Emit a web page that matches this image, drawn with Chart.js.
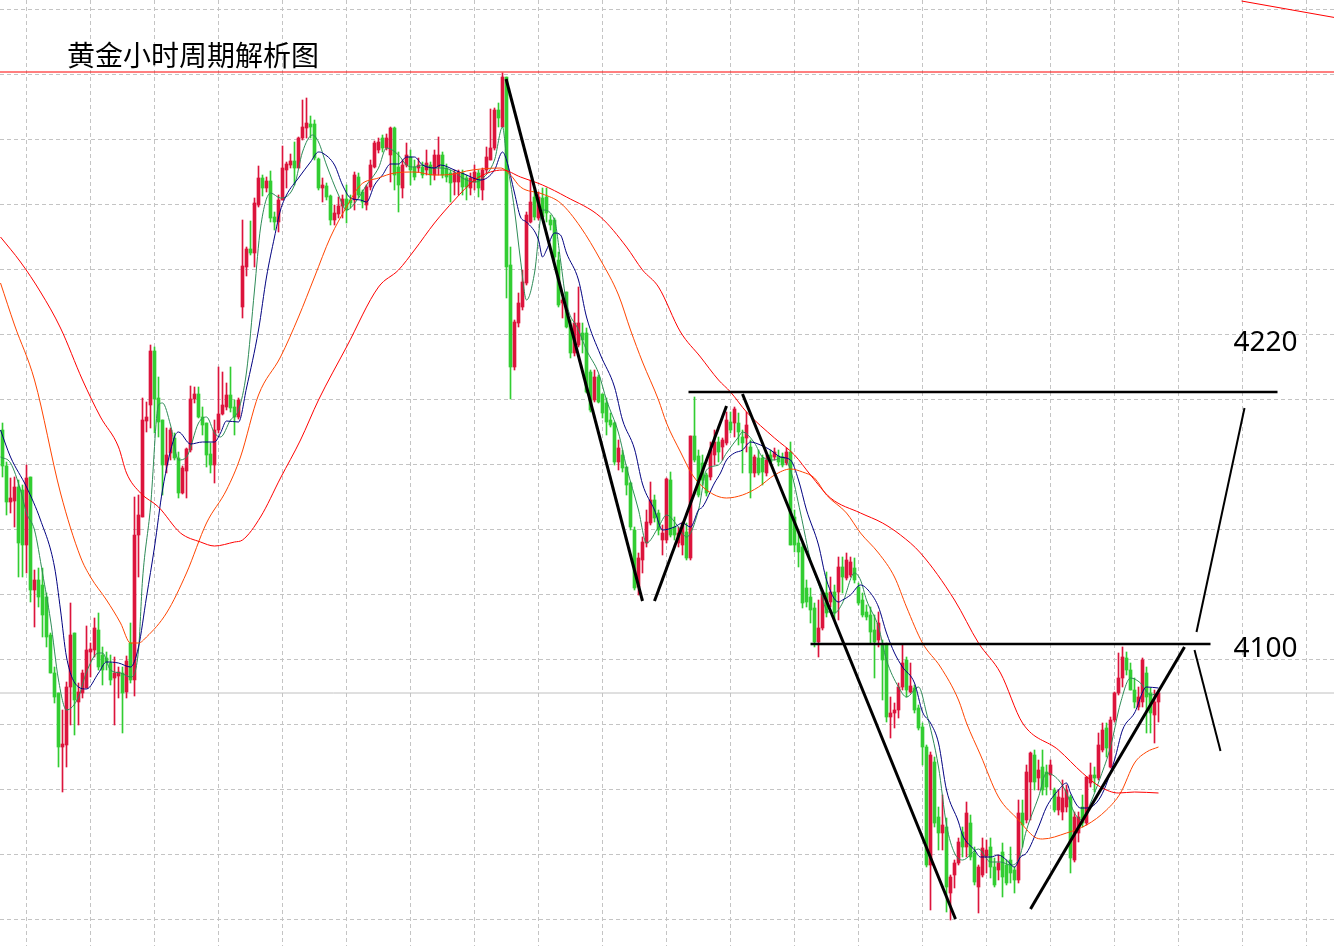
<!DOCTYPE html>
<html>
<head>
<meta charset="utf-8">
<style>
  html, body { margin: 0; padding: 0; background: #fff; }
  canvas { display: block; }
</style>
<script src="https://cdn.jsdelivr.net/npm/chart.js"></script>
</head>
<body>
<canvas id="chart" width="1334" height="946"></canvas>
<script>
// hourly candles, index 0 = first bar on the left
var opens = [
  4201,4183,4165,4165.5,4172.5,4171,4143.5,4177.5,4121,4126,
  4123.5,4117.5,4098.5,4079.5,4069.5,4042.5,4043.5,4072.5,4099.5,4065,
  4069.5,4072,4090,4091,4101,4088.5,4087,4084.5,4077,4078,
  4079.5,4070,4094.5,4076,4148.5,4157.5,4205.5,4213.5,4240.5,4217,
  4206,4183.5,4189.5,4197,4187,4169.5,4180.5,4191,4216.5,4219,
  4207.5,4204.5,4189,4183.5,4201,4209,4212.5,4218.5,4212.5,4207.5,
  4262.5,4282.5,4291.5,4289.5,4313.5,4327,4322,4325.5,4307.5,4305,
  4316,4331,4333.5,4335.5,4332,4347,4352,4354,4354,4336.5,
  4322,4323,4318,4306,4309,4313,4316.5,4316,4316,4327.5,
  4320,4313.5,4322.5,4332.5,4341,4347,4342,4338.5,4352,4332.5,
  4322,4333.5,4337.5,4332.5,4332,4332.5,4331,4333.5,4328.5,4332.5,
  4338.5,4332,4329.5,4325,4325,4329.5,4327,4322,4325,4329.5,
  4321,4331,4336,4342,4361,4352.5,4377.5,4283.5,4232.5,4254.5,
  4262.5,4274.5,4305,4317.5,4307,4317,4317.5,4306,4306,4286,
  4264.5,4270,4253.5,4239.5,4243.5,4249.5,4249.5,4230,4216,4227.5,
  4219,4214.5,4206,4204.5,4185,4188.5,4182.5,4174.5,4151,4122.5,
  4136,4144.5,4154.5,4166,4159.5,4146,4146,4176,4152.5,4144.5,
  4143.5,4150,4137,4198,4188,4184.5,4178.5,4177.5,4188.5,4195,
  4192.5,4194.5,4205,4204.5,4204.5,4197.5,4197,4192.5,4179.5,4187,
  4187,4179.5,4188.5,4187.5,4188,4187.5,4184.5,4190,4157.5,4144.5,
  4142.5,4122,4117.5,4112,4095,4102,4119.5,4115,4120,4120,
  4132.5,4127,4128.5,4132,4122.5,4116,4110,4108.5,4101,4096,
  4093.5,4093.5,4057.5,4059.5,4061,4072.5,4086,4070,4072,4062,
  4052.5,4042.5,3983.5,4035,4007.5,3999.5,4002.5,3969.5,3978.5,3984.5,
  4000,3992.5,4004.5,3989.5,3972.5,3978.5,3988,3992.5,3982.5,3981,
  3990,3983.5,3986,3981,3976,4009.5,4006,4025,4038.5,4027,
  4032.5,4030,4028.5,4021,4011,4010,4012.5,4017.5,3986,3999.5,
  4012.5,4004.5,4024.5,4028.5,4027,4041,4052,4032.5,4056,4069.5,
  4077,4087,4081,4071,4062.5,4065,4079.5,4069.5,4058.5,4065
];
var highs = [
  4204.5,4185,4177,4177.5,4176,4173.5,4183.5,4177.5,4131,4132,
  4132,4119.5,4099.5,4082.5,4069.5,4061,4075,4114.5,4099.5,4074.5,
  4081,4103,4094.5,4107,4109.5,4092.5,4090,4088.5,4087.5,4082.5,
  4082.5,4088,4104.5,4167.5,4168.5,4217,4215,4243.5,4242.5,4227.5,
  4206,4202,4202,4199.5,4190,4183,4192,4223,4222.5,4222.5,
  4212.5,4204.5,4194.5,4206,4232.5,4230,4224.5,4232.5,4216,4217,
  4306,4292.5,4305.5,4317,4333,4328.5,4327.5,4330.5,4310,4318.5,
  4343,4335,4339,4345,4347.5,4366,4367,4358,4356,4337,
  4327,4324.5,4318.5,4313.5,4317.5,4318.5,4323.5,4318.5,4330,4329.5,
  4321,4323.5,4336,4345.5,4347,4348.5,4349,4352.5,4352.5,4340,
  4336,4344.5,4341,4336,4337,4335,4341,4335,4341,4347.5,
  4340,4334,4331,4331,4331,4331,4328.5,4329.5,4333.5,4331,
  4332,4342.5,4361.5,4362,4364.5,4379.5,4377.5,4292.5,4256,4269.5,
  4281,4310,4326,4321,4320,4322,4322,4308.5,4307,4290,
  4267,4270,4256,4259.5,4272.5,4254.5,4252,4231,4231,4228.5,
  4219,4217,4209.5,4205,4196,4191,4182.5,4175,4152.5,4139.5,
  4147.5,4161,4175,4168.5,4161,4153.5,4177,4180,4157.5,4152.5,
  4155,4154.5,4198,4217.5,4191,4188.5,4179.5,4195,4201,4197.5,
  4197,4210,4210,4212.5,4209.5,4201,4210,4196,4188.5,4191,
  4188.5,4188.5,4191,4192,4191,4189.5,4192,4195,4161,4149.5,
  4144.5,4126,4122,4114.5,4116,4120,4130,4127.5,4123.5,4137.5,
  4137.5,4139.5,4137.5,4137,4124.5,4119.5,4113.5,4112.5,4108.5,4110,
  4096,4094.5,4067.5,4064.5,4074.5,4093.5,4087.5,4084.5,4073.5,4063.5,
  4054.5,4043.5,4040,4037.5,4012.5,4018.5,4007,3978.5,3986,3997,
  4002.5,4015,4008.5,3992.5,3983.5,3997,3996,3997,3987,3988.5,
  3994.5,3986,3992.5,3982.5,4016,4016,4033.5,4040,4041,4036,
  4041,4033.5,4036,4022,4021,4026,4023.5,4018.5,4010,4010,
  4018.5,4027.5,4034.5,4032.5,4049.5,4054.5,4054.5,4057.5,4070,4089.5,
  4092.5,4090,4084.5,4077,4072.5,4087,4082.5,4072,4071,4071
];
var lows = [
  4177.5,4158.5,4159.5,4152.5,4127.5,4127.5,4129.5,4115,4102.5,4112.5,
  4097.5,4092.5,4079.5,4064.5,4032.5,4020,4032.5,4053.5,4048.5,4053.5,
  4067,4072,4077.5,4087.5,4081,4073.5,4081,4073.5,4053.5,4067,
  4049.5,4067,4074.5,4068,4127.5,4157.5,4200,4202,4199.5,4197.5,
  4168.5,4179.5,4186,4186,4167,4169,4167,4190,4214.5,4207,
  4198.5,4182.5,4179.5,4174.5,4199.5,4208.5,4211,4210,4198.5,4206.5,
  4257,4278,4288.5,4282.5,4312.5,4318,4320,4305,4301,4300,
  4316,4322,4332,4323.5,4332,4346,4347,4347,4336,4321,
  4315,4316,4303.5,4303.5,4307,4307,4304.5,4312,4311,4317,
  4312,4311,4321,4332,4339.5,4340,4341,4325,4321,4310,
  4317,4332.5,4323.5,4326,4330,4327,4328.5,4323.5,4326,4328.5,
  4327,4325,4315,4318.5,4318.5,4318.5,4316,4318.5,4321,4317.5,
  4316,4329.5,4336,4341,4352.5,4352.5,4267,4216.5,4231,4252.5,
  4261,4273.5,4304.5,4306,4306,4307,4305,4301,4286,4262.5,
  4257,4252,4237,4238,4242.5,4239.5,4219.5,4210,4215,4214.5,
  4207,4198.5,4202.5,4183.5,4181,4180,4168.5,4151,4121,4118.5,
  4129.5,4142.5,4153.5,4155,4148.5,4138.5,4144.5,4147.5,4146,4142.5,
  4138.5,4136,4136,4185,4167.5,4173.5,4168,4176,4183.5,4185,
  4186,4193.5,4199.5,4197.5,4193.5,4179.5,4190,4167,4177.5,4178.5,
  4173.5,4178,4183.5,4186,4183,4182.5,4183.5,4143.5,4140,4132.5,
  4112,4112.5,4104.5,4092.5,4087.5,4101,4107.5,4112.5,4106,4106,
  4119.5,4126,4127.5,4124.5,4113.5,4107.5,4106,4094.5,4077,4092.5,
  4066,4055,4047,4052,4057,4071,4067.5,4069.5,4059.5,4051,
  4033.5,3982.5,3961,4002.5,3991,3991,3960,3956,3972,3983.5,
  3987.5,3987.5,3986,3973.5,3959.5,3977.5,3979.5,3977,3972.5,3976,
  3967.5,3973.5,3974.5,3969.5,3974.5,3992.5,4004.5,4006,4021,4021,
  4018.5,4018.5,4021,4010,4008.5,4006,4010,3979.5,3985,3995,
  4002.5,4003.5,4022.5,4020,4026,4040,4037.5,4032,4055,4068.5,
  4072.5,4078.5,4071,4062,4061,4062.5,4049.5,4049.5,4044.5,4055
];
var closes = [
  4183,4165,4167,4172.5,4144.5,4143.5,4177,4121,4126,4117.5,
  4108.5,4097.5,4079.5,4067.5,4042.5,4044,4072.5,4098.5,4066,4070,
  4079.5,4091,4091.5,4102,4082.5,4081,4085,4076,4079.5,4080,
  4069.5,4085.5,4076,4148.5,4158.5,4206,4207.5,4240.5,4216.5,4205,
  4183.5,4188.5,4201,4187,4169.5,4182,4191.5,4216.5,4219,4207.5,
  4203.5,4188.5,4183.5,4201,4209,4213.5,4218.5,4212,4207.5,4216,
  4283,4291.5,4289.5,4314.5,4327,4322,4325.5,4307,4305,4316,
  4332,4334,4335.5,4332,4347,4352.5,4354.5,4352.5,4337,4322,
  4323.5,4317.5,4306,4309.5,4313,4316.5,4311,4314.5,4328.5,4318.5,
  4315,4322.5,4333.5,4344.5,4345,4342,4347,4352,4328.5,4323.5,
  4333.5,4338.5,4331,4327.5,4333.5,4328.5,4334.5,4328.5,4338.5,4338.5,
  4328.5,4327.5,4324.5,4329.5,4330,4322.5,4322.5,4327,4330,4322,
  4331,4337.5,4342,4361,4357,4377.5,4282.5,4232.5,4255,4264.5,
  4275,4308.5,4315,4307.5,4317.5,4307.5,4309.5,4303.5,4287.5,4263.5,
  4266,4252.5,4239.5,4254.5,4254.5,4246,4220,4211,4227.5,4215,
  4209.5,4205,4203.5,4185,4192,4182,4173.5,4152.5,4122,4137,
  4145,4155,4166,4157,4151,4149.5,4176.5,4148.5,4148.5,4149.5,
  4154.5,4137,4198,4186,4168.5,4176,4169.5,4191,4195,4190,
  4196,4206,4201,4211.5,4200,4194.5,4203.5,4179.5,4187.5,4179.5,
  4180,4186,4185,4190,4185,4183.5,4190,4143.5,4143.5,4140,
  4114.5,4115,4111,4095,4102,4119.5,4109.5,4120,4109.5,4132.5,
  4127.5,4136,4135,4126,4114.5,4108.5,4107.5,4100,4095,4104.5,
  4086,4057.5,4059.5,4061,4072.5,4084.5,4071,4073,4061,4052,
  4042.5,3983.5,4038.5,4004.5,3999.5,4003.5,3972.5,3977.5,3984.5,3995,
  3992.5,4009.5,3987.5,3975,3982.5,3992,3991,3982.5,3973.5,3984.5,
  3977.5,3974.5,3979.5,3976,4009.5,4003.5,4030,4039.5,4025,4031,
  4021,4022.5,4033.5,4011,4017.5,4017,4021,3987,4007.5,4007.5,
  4004.5,4027.5,4028.5,4027,4043.5,4051,4042,4056,4069.5,4077,
  4087.5,4081,4071,4065,4067.5,4086,4067.5,4059.5,4065,4069.5
];

// moving averages: [bar index, price]
var maFast = [
  [-0.5,4187.5],[2,4184.5],[4.5,4171],[6,4159.5],[8,4151],[10,4129.5],[12,4106],[14,4076],[16,4061],[19,4067.5],
  [21,4080],[24,4089.5],[25,4089.5],[27,4081],[29.5,4079.5],[32,4077.5],[34,4091],[35,4126],[37,4162.5],[39,4213.5],
  [40,4214.5],[42,4203.5],[44,4186],[46,4187.5],[49,4204.5],[51,4207.5],[53,4199.5],[54.5,4197.5],[57,4206],[59,4211],
  [61,4230],[63,4271],[64.5,4302],[67,4319.5],[69.5,4317],[73,4323.5],[75,4340],[77.5,4348.5],[79,4345],[81,4333.5],
  [84,4318.5],[86,4311],[89,4317],[91,4323.5],[94,4332],[96,4342],[99,4338.5],[101,4333.5],[103,4332.5],[105,4333.5],
  [108,4332],[110,4332],[113,4330],[115,4327],[118,4325],[119.5,4326],[123,4336],[125,4352.5],[126,4337.5],[128,4311],
  [129.5,4286],[131,4266],[133,4279.5],[135,4311],[138,4306],[139.5,4286],[141,4264.5],[144,4251],[146,4241],[149,4229.5],
  [151,4216],[154,4199.5],[156,4182.5],[159,4161],[161,4144.5],[164,4152.5],[166,4158.5],[169,4152.5],[171,4147.5],[174,4161],
  [176,4181],[179,4183.5],[181,4189.5],[184,4197.5],[185,4200],[188,4194.5],[190,4187.5],[193,4186],[195,4187.5],[197,4181],
  [199.5,4159.5],[202,4136],[204.5,4121],[206,4111],[208,4109.5],[210,4114.5],[213,4129.5],[214.5,4126],[216,4116],[219,4102.5],
  [221,4086],[224,4072.5],[226,4067.5],[229,4072.5],[231,4059.5],[234,4032.5],[236,4003.5],[238,3989.5],[240,3986],[244,3991.5],
  [247,3985],[249.5,3985],[252,3983.5],[254,3986],[256,4001],[259,4017.5],[261,4029.5],[264,4026],[266,4019.5],[268,4009.5],
  [270,4006],[272,4014.5],[274.5,4027.5],[277,4042.5],[279.5,4064.5],[282,4077],[284.5,4074.5],[287,4068.5],[289,4069.5]
];
var maMid = [
  [-0.5,4201],[2,4187.5],[6,4172.5],[9.5,4156],[13,4132.5],[14.5,4111],[16,4087.5],[19,4072.5],[21,4071.5],[24,4079.5],
  [26,4085],[29,4084.5],[32,4082.5],[34,4092.5],[36,4117.5],[38,4142.5],[40,4171],[43,4197.5],[44,4200],[47,4194],
  [50,4195],[53,4195],[54.5,4199.5],[56,4205.5],[59,4205],[61,4222],[64,4251],[66,4277.5],[68,4297.5],[69.5,4311],
  [71,4318.5],[74,4327],[77,4335],[79,4340],[80,4339.5],[83,4333.5],[85,4323.5],[87,4317],[89.5,4316],[91,4315],
  [93,4323.5],[95,4328.5],[97,4334],[99,4334],[101,4337.5],[103,4337.5],[105,4333.5],[108,4332],[109.5,4333.5],[113,4331],
  [116,4328.5],[119.5,4326],[123,4331],[125,4340],[126,4336],[128,4319.5],[129.5,4307.5],[131,4305],[134,4296],[135,4287.5],
  [136,4291],[138,4299.5],[139.5,4298.5],[141,4289.5],[144,4276],[146,4257.5],[149.5,4238.5],[153,4222.5],[155,4206],[158,4191.5],
  [160,4174],[163,4161],[165,4151],[168,4152.5],[170,4154.5],[172,4152.5],[174,4161],[175,4162.5],[178,4174.5],[179.5,4179.5],
  [181,4186],[183,4189.5],[185,4191],[187,4195],[189.5,4193.5],[192,4191],[194.5,4187.5],[197,4186],[199,4176],[201,4161],
  [204,4143.5],[206,4126],[209,4115],[210,4116],[212,4118.5],[214.5,4123.5],[217,4119.5],[219,4112.5],[221,4099.5],[223,4089.5],
  [225,4082.5],[228,4074.5],[230,4060],[232,4054.5],[234,4044.5],[236,4021],[239,4005],[240,3998.5],[243,3991],[244.5,3987.5],
  [247,3987.5],[249,3988.5],[251,3986],[253,3982.5],[254.5,3987.5],[256,3989.5],[259,4002.5],[261,4012.5],[264,4021],[266,4024.5],
  [267,4019.5],[269.5,4012],[271,4012],[274.5,4017.5],[278,4036],[280,4051],[283,4059.5],[286,4072.5],[289,4072]
];
var maSlow = [
  [-0.5,4274.5],[3,4253.5],[8,4226],[14.5,4169.5],[19.5,4137.5],[22,4127.5],[26,4116],[29.5,4104.5],[32,4094.5],[34,4094.5],
  [36,4097.5],[41,4109.5],[46,4129.5],[51,4154.5],[56,4171],[59.5,4187.5],[64,4218.5],[69.5,4237.5],[74,4257.5],[78,4277.5],
  [82,4297.5],[86,4312.5],[89.5,4323.5],[94,4327],[98,4329.5],[103,4330],[108,4328.5],[113,4329],[116,4330.5],[119.5,4331.5],
  [124.5,4332],[127,4328.5],[129.5,4322.5],[135,4319],[139.5,4314.5],[144.5,4302.5],[149.5,4286],[154,4268.5],[157,4251],[160,4235],
  [164,4216],[166,4204.5],[169.5,4190],[172.5,4178.5],[176,4171],[181,4167],[185,4168.5],[189,4172.5],[193,4178.5],[197,4181.5],
  [200,4180],[203,4177],[206,4168.5],[211,4159.5],[214.5,4149.5],[219,4139.5],[223,4127.5],[226,4112.5],[230,4094.5],[234.5,4082.5],
  [239,4066],[241,4054.5],[244.5,4038.5],[249,4017.5],[254,4006],[258,3997.5],[260,3996.5],[266,3999.5],[271,4003.5],[276,4011],
  [279.5,4019.5],[283,4034.5],[286,4040],[289,4042.5]
];
var maLong = [
  [-0.5,4297.5],[4.5,4285],[9.5,4270],[14.5,4252],[20,4226],[24.5,4207.5],[29,4192.5],[31,4179.5],[34.5,4169.5],[39,4162.5],
  [44.5,4149.5],[49.5,4145],[53,4143],[58,4145],[60,4146],[64.5,4157.5],[69.5,4177],[74.5,4196],[79,4216],[86,4242.5],
  [94,4272.5],[99,4281],[103,4291],[108,4304.5],[113,4316],[118,4326],[122,4330],[125,4331],[129.5,4327.5],[135,4323.5],
  [141,4317.5],[149.5,4307.5],[156,4292.5],[160,4281],[164,4272.5],[169.5,4250],[174.5,4237.5],[179,4226],[182,4220],[186,4210],
  [193,4197],[198,4188.5],[202,4178.5],[207,4167],[214.5,4159.5],[220,4154.5],[224.5,4148.5],[229.5,4139.5],[238,4116],[244,4094.5],
  [249.5,4079.5],[255,4054.5],[264,4041],[270,4029.5],[274.5,4022.5],[279,4019.5],[283,4020],[289,4019.5]
];

// hand drawn analysis lines
var trendLines = [
  [[125.9, 4376.5], [160, 4115.5]],
  [[163, 4115.5], [181, 4213]],
  [[185, 4219], [238.25, 3956.5]],
  [[257, 3961.5], [295.5, 4092.5]]
];
var projectionLines = [
  [[298.5, 4100], [310.5, 4212]],
  [[298, 4091], [304.5, 4040.5]]
];
var resistanceLine = [[171.5, 4220], [318.75, 4220]];
var supportLine = [[202, 4094], [302, 4094]];
var highLevel = 4380;
var lastPrice = 4069.5;
var cornerLine = [[309.75, 4415.5], [333, 4407.25]];

var titleText = '黄金小时周期解析图';
var levelLabels = [
  { text: '4220', at: [307.75, 4244.5] },
  { text: '4100', at: [307.75, 4091.5] }
];

var xMin = -0.625, xMax = 332.875;
var yMin = 3943, yMax = 4416;

var upColor = '#dc143c';
var downColor = '#32cd32';

var idx = closes.map(function (_, i) { return i; });
var candleColors = idx.map(function (i) { return closes[i] >= opens[i] ? upColor : downColor; });

function pts(list) {
  return list.map(function (p) { return { x: p[0], y: p[1] }; });
}
function lineSet(data, color, width, order) {
  return {
    type: 'line', data: data, borderColor: color, borderWidth: width,
    pointRadius: 0, tension: 0, fill: false, order: order
  };
}
function maSet(list, color) {
  var ds = lineSet(pts(list), color, 1, 2);
  ds.cubicInterpolationMode = 'monotone';
  return ds;
}

var datasets = [
  {
    type: 'bar',
    data: idx.map(function (i) { return { x: i, y: [lows[i], highs[i]] }; }),
    backgroundColor: candleColors, barThickness: 1, grouped: false, order: 5
  },
  {
    type: 'bar',
    data: idx.map(function (i) { return { x: i, y: [opens[i], closes[i]] }; }),
    backgroundColor: candleColors, barThickness: 3, minBarLength: 1, grouped: false, order: 4
  },
  lineSet([{ x: xMin, y: lastPrice }, { x: xMax, y: lastPrice }], '#c0c0c0', 1, 6),
  lineSet([{ x: xMin, y: highLevel }, { x: xMax, y: highLevel }], '#ff0000', 1, 3),
  lineSet(pts(cornerLine), '#ff0000', 1, 3),
  maSet(maLong, '#ff0000'),
  maSet(maSlow, '#ff4500'),
  maSet(maMid, '#000080'),
  maSet(maFast, '#2e8b57')
];
trendLines.forEach(function (l) { datasets.push(lineSet(pts(l), '#000000', 3, 0)); });
projectionLines.forEach(function (l) { datasets.push(lineSet(pts(l), '#000000', 2, 0)); });
datasets.push(lineSet(pts(resistanceLine), '#000000', 2.5, 0));
datasets.push(lineSet(pts(supportLine), '#000000', 2.5, 0));

var gridCols = [];
for (var gx = 6; gx < xMax; gx += 16) gridCols.push({ value: gx });
var gridRows = [];
for (var gy = 4411.25; gy > yMin; gy -= 32.5) gridRows.push({ value: gy });

var notes = {
  id: 'notes',
  afterDatasetsDraw: function (chart) {
    var ctx = chart.ctx, x = chart.scales.x, y = chart.scales.y, area = chart.chartArea;
    ctx.save();
    ctx.fillStyle = '#000';
    ctx.textBaseline = 'middle';
    ctx.textAlign = 'left';
    ctx.font = '28px "Noto Sans CJK SC"';
    ctx.fillText(titleText, area.left + 67, area.top + 55);
    ctx.font = '28px "Noto Sans"';
    levelLabels.forEach(function (l) {
      ctx.fillText(l.text, x.getPixelForValue(l.at[0]), y.getPixelForValue(l.at[1]));
    });
    ctx.restore();
  }
};

var ctx = document.getElementById('chart').getContext('2d');
var myChart = new Chart(ctx, {
  type: 'bar',
  data: { datasets: datasets },
  options: {
    responsive: false,
    devicePixelRatio: 1,
    animation: false,
    events: [],
    layout: { padding: 0 },
    plugins: { legend: { display: false }, tooltip: { enabled: false } },
    scales: {
      x: {
        type: 'linear', min: xMin, max: xMax, offset: false, bounds: 'data',
        ticks: { display: false },
        grid: { color: '#c4c4c4', lineWidth: 1, drawTicks: false, offset: false },
        border: { display: false, dash: [4, 3] },
        afterBuildTicks: function (s) { s.ticks = gridCols; }
      },
      y: {
        type: 'linear', min: yMin, max: yMax, bounds: 'data',
        ticks: { display: false },
        grid: { color: '#c4c4c4', lineWidth: 1, drawTicks: false },
        border: { display: false, dash: [4, 3] },
        afterBuildTicks: function (s) { s.ticks = gridRows; }
      }
    }
  },
  plugins: [notes]
});
</script>
</body>
</html>
